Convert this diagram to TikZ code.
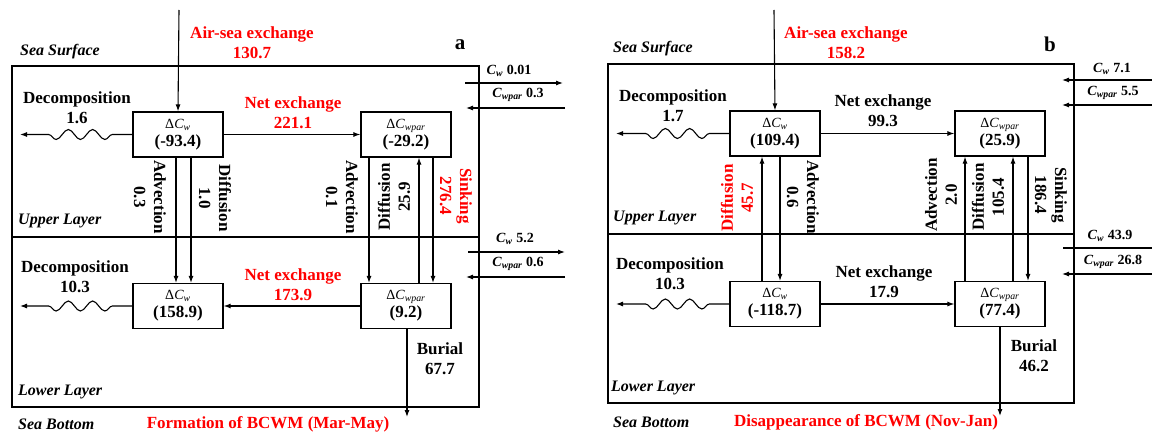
\documentclass[tikz,border=0pt]{standalone}
\usepackage{fontspec}
\setmainfont{Liberation Serif}
\usepackage{xcolor}
\usepackage{tikz}
\usetikzlibrary{positioning, arrows.meta, decorations.pathmorphing}

\newcommand{\dC}[1]{Δ\textit{C}\textsubscript{\textit{#1}}}
\newcommand{\Cs}[1]{\textit{C}\textsubscript{\textit{#1}}}
\newcommand{\val}[1]{{\fontsize{17}{20}\selectfont\bfseries #1}}

\tikzset{
  pool/.style={draw, rectangle, line width=1.2pt, minimum width=90pt, minimum height=45pt, inner sep=0pt, align=center, font=\fontsize{14}{18}\selectfont},
  flux/.style={font=\fontsize{17}{20}\selectfont\bfseries, align=center, inner sep=0pt},
  hot/.style={flux, text=red},
  layer/.style={font=\fontsize{16}{19}\selectfont\bfseries\itshape, anchor=west, inner sep=0pt},
  side/.style={font=\fontsize{14}{16}\selectfont\bfseries, inner sep=0pt},
  flow/.style={line width=1.1pt, -{Latex[length=7pt,width=5pt]}},
  wall/.style={line width=1.8pt},
  wavy/.style={decoration={snake, segment length=24.33pt, amplitude=5pt}},
}

\begin{document}
\begin{tikzpicture}[x=1pt, y=-1pt, node distance=228pt, on grid]
  \useasboundingbox (0,0) rectangle (1152,433);

  % panel a: formation
  \draw [wall] (12,66) rectangle (479,407);
  \draw [wall] (12,237) -- (479,237);
  \node (asurf) [layer] at (20,52) {Sea Surface};
  \node (aup) [layer] at (18,221) {Upper Layer};
  \node (alow) [layer] at (18,392) {Lower Layer};
  \node (abot) [layer] at (18,424) {Sea Bottom};
  \node (atag) [flux, font=\fontsize{21}{24}\selectfont\bfseries] at (460,45) {a};

  \node (aw) [pool] at (178,134.5) {\dC{w}\\\val{(-93.4)}};
  \node (ap) [pool, right=of aw] {\dC{wpar}\\\val{(-29.2)}};
  \node (awl) [pool, below=171.5pt of aw] {\dC{w}\\\val{(158.9)}};
  \node (apl) [pool, below=171.5pt of ap] {\dC{wpar}\\\val{(9.2)}};

  \coordinate (aair) at (179,10);
  \draw [flow] (aair) -- (aw.north);
  \node (aairl) [hot] at (252,43) {Air-sea exchange\\130.7};

  \draw [flow] (aw) -- (ap);
  \node (anetu) [hot] at (293,113) {Net exchange\\221.1};
  \draw [flow] (apl) -- (awl);
  \node (anetl) [hot] at (293,285) {Net exchange\\173.9};

  \coordinate (adu) at (20,134.5);
  \draw [flow] (aw.west) -- ++(-20,0) decorate [wavy] {-- ++(-73,0)} -- (adu);
  \node (adecu) [flux] at (77,108) {Decomposition\\1.6};
  \coordinate (adl) at (20,306);
  \draw [flow] (awl.west) -- ++(-20,0) decorate [wavy] {-- ++(-73,0)} -- (adl);
  \node (adecl) [flux] at (75,277) {Decomposition\\10.3};

  \draw [flow] ([xshift=-2pt]aw.south) -- ([xshift=-2pt]awl.north);
  \draw [flow] ([xshift=13pt]aw.south) -- ([xshift=13pt]awl.north);
  \draw [flow] ([xshift=-37pt]ap.south) -- ([xshift=-37pt]apl.north);
  \draw [flow] ([xshift=13pt]apl.north) -- ([xshift=13pt]ap.south);
  \draw [flow] ([xshift=27pt]ap.south) -- ([xshift=27pt]apl.north);
  \node (aadv1) [flux, rotate=-90] at (150,197) {Advection\\0.3};
  \node (adif1) [flux, rotate=-90] at (215,198) {Diffusion\\1.0};
  \node (aadv2) [flux, rotate=-90] at (342,197) {Advection\\0.1};
  \node (adif2) [flux, rotate=90] at (394,197) {Diffusion\\25.9};
  \node (asink) [hot, rotate=-90] at (456,196) {Sinking\\276.4};

  \coordinate (abur) at (407,417);
  \draw [flow] ([xshift=1pt]apl.south) -- (abur);
  \node (aburl) [flux] at (440,359) {Burial\\67.7};
  \node (aform) [hot] at (268,424) {Formation of BCWM (Mar-May)};

  \coordinate (ao1) at (465,83);  \coordinate (ao2) at (563,83);
  \coordinate (ao3) at (565,108); \coordinate (ao4) at (466,108);
  \coordinate (ao5) at (468,252); \coordinate (ao6) at (565,252);
  \coordinate (ao7) at (565,277); \coordinate (ao8) at (466,277);
  \draw [flow] (ao1) -- (ao2);
  \draw [flow] (ao3) -- (ao4);
  \draw [flow] (ao5) -- (ao6);
  \draw [flow] (ao7) -- (ao8);
  \node (acw1) [side] at (509,71) {\Cs{w} 0.01};
  \node (acp1) [side] at (518,95) {\Cs{wpar} 0.3};
  \node (acw2) [side] at (515,239) {\Cs{w} 5.2};
  \node (acp2) [side] at (518,264) {\Cs{wpar} 0.6};

  % panel b: disappearance
  \draw [wall] (608,64) rectangle (1074,403);
  \draw [wall] (608,234) -- (1074,234);
  \node (bsurf) [layer] at (613,49) {Sea Surface};
  \node (bup) [layer] at (613,218) {Upper Layer};
  \node (blow) [layer] at (611,388) {Lower Layer};
  \node (bbot) [layer] at (613,422) {Sea Bottom};
  \node (btag) [flux, font=\fontsize{21}{24}\selectfont\bfseries] at (1050,44) {b};

  \node (bw) [pool] at (775,133.5) {\dC{w}\\\val{(109.4)}};
  \node (bp) [pool, right=225pt of bw] {\dC{wpar}\\\val{(25.9)}};
  \node (bwl) [pool, below=170.5pt of bw] {\dC{w}\\\val{(-118.7)}};
  \node (bpl) [pool, below=170.5pt of bp] {\dC{wpar}\\\val{(77.4)}};

  \coordinate (bair) at (774,10);
  \draw [flow] (bair) -- (bw.north);
  \node (bairl) [hot] at (846,43) {Air-sea exchange\\158.2};

  \draw [flow] (bw) -- (bp);
  \node (bnetu) [flux] at (883,111) {Net exchange\\99.3};
  \draw [flow] (bwl) -- (bpl);
  \node (bnetl) [flux] at (884,282) {Net exchange\\17.9};

  \coordinate (bdu) at (616,133.5);
  \draw [flow] (bw.west) -- ++(-20,0) decorate [wavy] {-- ++(-73,0)} -- (bdu);
  \node (bdecu) [flux] at (673,106) {Decomposition\\1.7};
  \coordinate (bdl) at (616,304);
  \draw [flow] (bwl.west) -- ++(-20,0) decorate [wavy] {-- ++(-73,0)} -- (bdl);
  \node (bdecl) [flux] at (670,274) {Decomposition\\10.3};

  \draw [flow] ([xshift=-13pt]bwl.north) -- ([xshift=-13pt]bw.south);
  \draw [flow] ([xshift=5pt]bw.south) -- ([xshift=5pt]bwl.north);
  \draw [flow] ([xshift=-35pt]bpl.north) -- ([xshift=-35pt]bp.south);
  \draw [flow] ([xshift=13pt]bpl.north) -- ([xshift=13pt]bp.south);
  \draw [flow] ([xshift=28pt]bp.south) -- ([xshift=28pt]bpl.north);
  \node (bdif1) [hot, rotate=90] at (737,198) {Diffusion\\45.7};
  \node (badv1) [flux, rotate=-90] at (803,197) {Advection\\0.6};
  \node (badv2) [flux, rotate=90] at (941,195) {Advection\\2.0};
  \node (bdif2) [flux, rotate=90] at (988,197) {Diffusion\\105.4};
  \node (bsink) [flux, rotate=-90] at (1051,195) {Sinking\\186.4};

  \coordinate (bbur) at (1000,416);
  \draw [flow] (bpl.south) -- (bbur);
  \node (bburl) [flux] at (1034,356) {Burial\\46.2};
  \node (bgone) [hot] at (866,422) {Disappearance of BCWM (Nov-Jan)};

  \coordinate (bi1) at (1152,80);  \coordinate (bi2) at (1062,80);
  \coordinate (bi3) at (1152,105); \coordinate (bi4) at (1062,105);
  \coordinate (bi5) at (1152,248); \coordinate (bi6) at (1063,248);
  \coordinate (bi7) at (1152,274); \coordinate (bi8) at (1062,274);
  \draw [flow] (bi1) -- (bi2);
  \draw [flow] (bi3) -- (bi4);
  \draw [line width=1.1pt] (bi5) -- (bi6);
  \draw [flow] (bi7) -- (bi8);
  \node (bcw1) [side] at (1112,69) {\Cs{w} 7.1};
  \node (bcp1) [side] at (1113,93) {\Cs{wpar} 5.5};
  \node (bcw2) [side] at (1110,236) {\Cs{w} 43.9};
  \node (bcp2) [side] at (1113,262) {\Cs{wpar} 26.8};
\end{tikzpicture}
\end{document}
